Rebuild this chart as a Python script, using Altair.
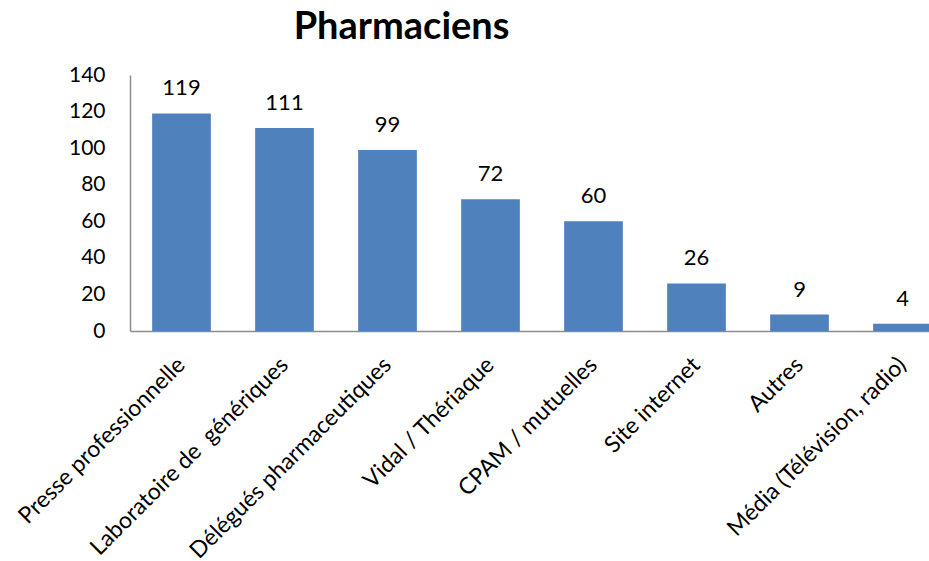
import altair as alt
import pandas as pd

# Sources d'information citées par les pharmaciens
categories = [
    "Presse professionnelle",
    "Laboratoire de \u00a0génériques",
    "Délégués pharmaceutiques",
    "Vidal / Thériaque",
    "CPAM / mutuelles",
    "Site internet",
    "Autres",
    "Média (Télévision, radio)",
]
counts = [119, 111, 99, 72, 60, 26, 9, 4]

y_ticks = [0, 20, 40, 60, 80, 100, 120, 140]

df = pd.DataFrame({"source": categories, "n": counts})

FONT = "Lato"
BAR = "#4F81BD"
AXIS_GREY = "#8C8C8C"

x_enc = alt.X(
    "source:N",
    sort=categories,
    scale=alt.Scale(domain=categories, range=[0, 824], paddingInner=0.43, paddingOuter=0.215),
    axis=alt.Axis(
        title=None,
        labelAngle=-45,
        labelAlign="right",
        labelBaseline="middle",
        labelPadding=30,
        labelFont=FONT,
        labelFontSize=23,
        labelColor="#000000",
        ticks=False,
        domainColor=AXIS_GREY,
        domainWidth=1.5,
        labelOverlap=False,
        labelLimit=400,
    ),
)
y_enc = alt.Y(
    "n:Q",
    scale=alt.Scale(domain=[0, 140], nice=False),
    axis=alt.Axis(
        title=None,
        values=y_ticks,
        grid=False,
        ticks=False,
        labelPadding=25,
        labelFont=FONT,
        labelFontSize=21,
        labelColor="#000000",
        domainColor=AXIS_GREY,
        domainWidth=1.5,
    ),
)

bars = alt.Chart(df).mark_bar(color=BAR).encode(x=x_enc, y=y_enc)

values = alt.Chart(df).mark_text(
    font=FONT, fontSize=22, color="#000000", baseline="alphabetic", dy=-18
).encode(x=x_enc, y=y_enc, text="n:Q")

chart = (
    alt.layer(bars, values)
    .properties(
        width=799,
        height=256,
        title=alt.TitleParams(
            "Pharmaciens",
            font=FONT,
            fontSize=38,
            fontWeight="bold",
            color="#000000",
            anchor="start",
            dx=279,
            offset=17,
        ),
        autosize=alt.AutoSizeParams(type="none"),
        padding={"left": 130, "top": 75, "right": 0, "bottom": 230},
    )
    .configure_view(stroke=None)
)

chart.save("out.html", embed_options={"renderer": "svg", "actions": False})
